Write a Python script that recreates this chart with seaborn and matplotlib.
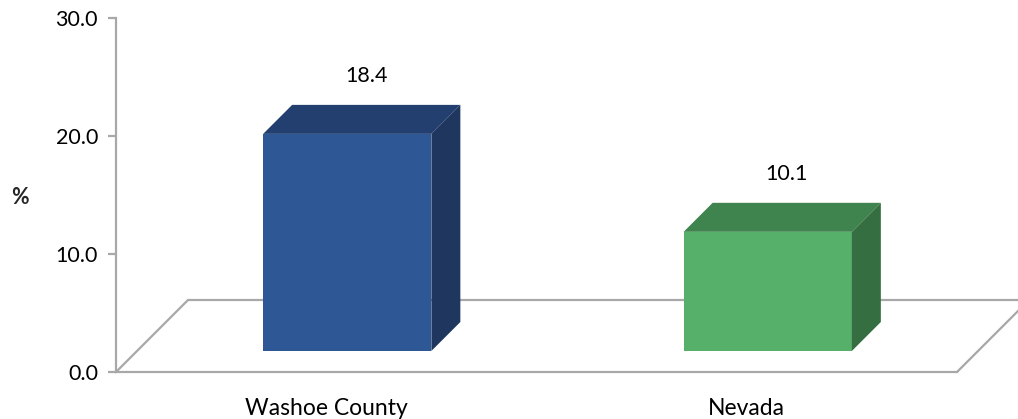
import matplotlib
matplotlib.use("Agg")
import matplotlib.pyplot as plt
from matplotlib.patches import Polygon
import seaborn as sns
import pandas as pd

categories = ["Washoe County", "Nevada"]
values = [18.4, 10.1]
front_colors = ["#2E5796", "#57B06A"]
top_colors = ["#233F70", "#3F844E"]
side_colors = ["#1F365F", "#356F41"]
yticks = [0, 10, 20, 30]

sns.set_style("white")
plt.rcParams["font.family"] = ["Lato", "DejaVu Sans"]

W, H = 1018, 419
fig = plt.figure(figsize=(W / 100, H / 100), dpi=100)
# axes: left 116px, front floor edge at 372px, value 30 at 18px
ax = fig.add_axes([116 / W, (H - 372) / H, 841 / W, 354 / H])

df = pd.DataFrame({"cat": categories, "val": values})
sns.barplot(data=df, x="cat", y="val", hue="cat", palette=front_colors,
            width=0.4, legend=False, ax=ax, saturation=1, zorder=3)
ax.set_xlim(-0.5, 1.5)
ax.set_ylim(0, 30)

# pixels per data unit
kx = 841 / 2
ky = 354 / 30
sx, sy = 21 / kx, 21 / ky      # bar plane offset from front plane
dx, dy = 29 / kx, 29 / ky      # bar depth
fx, fy = 72 / kx, 72 / ky      # floor depth

grey = "#A8A8A8"
fs = 15.5

# floor (parallelogram)
floor = Polygon([(-0.5, 0), (-0.5 + fx, fy), (1.5 + fx, fy), (1.5, 0)],
                closed=False, fill=False, edgecolor=grey, lw=1.6,
                clip_on=False, zorder=1)
ax.add_patch(floor)

for i, p in enumerate(ax.patches[:len(values)]):
    x0 = p.get_x() + sx
    w = p.get_width()
    h = p.get_height()
    p.set_x(x0)
    p.set_y(sy)
    p.set_edgecolor("none")
    p.set_clip_on(False)
    top = Polygon([(x0, sy + h), (x0 + w, sy + h), (x0 + w + dx, sy + h + dy),
                   (x0 + dx, sy + h + dy)], closed=True, facecolor=top_colors[i],
                  edgecolor="none", clip_on=False, zorder=3)
    side = Polygon([(x0 + w, sy), (x0 + w + dx, sy + dy), (x0 + w + dx, sy + h + dy),
                    (x0 + w, sy + h)], closed=True, facecolor=side_colors[i],
                   edgecolor="none", clip_on=False, zorder=3)
    ax.add_patch(top)
    ax.add_patch(side)
    ax.text(p.get_x() - sx + w / 2 + 40 / kx, h + 79 / ky, f"{values[i]:.1f}",
            ha="center", va="center", fontsize=fs, color="#000000")

for s in ["top", "right"]:
    ax.spines[s].set_visible(False)
for s in ["left", "bottom"]:
    ax.spines[s].set_color(grey)
    ax.spines[s].set_linewidth(1.6)
    ax.spines[s].set_zorder(1)

ax.set_yticks(yticks)
ax.set_yticklabels([f"{t:.1f}" for t in yticks])
ax.tick_params(axis="y", left=True, length=6, width=1.6, color=grey,
               pad=7, labelsize=fs, labelcolor="#000000")
ax.tick_params(axis="x", bottom=False, length=0, pad=19, labelsize=16.5,
               labelcolor="#000000")
ax.set_xlabel("")
ax.set_ylabel("%", rotation=0, fontsize=fs, fontweight="bold", va="center")
ax.yaxis.set_label_coords(-96 / 841, (372 - 197) / 354)

fig.savefig("out.png", dpi=100, facecolor="white")
